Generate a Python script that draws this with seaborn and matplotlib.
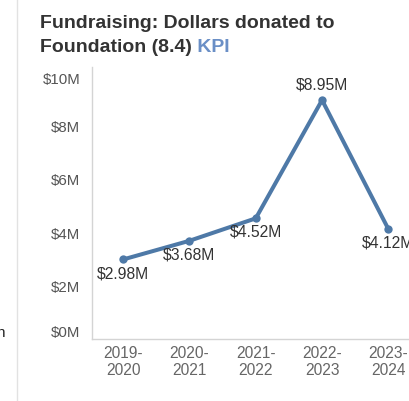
import matplotlib
matplotlib.use("Agg")
import matplotlib.pyplot as plt
from matplotlib.lines import Line2D
import seaborn as sns
import pandas as pd

# Fiscal years and dollars donated (millions)
years = ["2019-\n2020", "2020-\n2021", "2021-\n2022", "2022-\n2023", "2023-\n2024"]
donated_m = [2.98, 3.68, 4.52, 8.95, 4.12]
value_labels = ["$2.98M", "$3.68M", "$4.52M", "$8.95M", "$4.12M"]
y_ticks = [0, 2, 4, 6, 8, 10]
y_tick_labels = ["$0M", "$2M", "$4M", "$6M", "$8M", "$10M"]

sns.set_style("white")
plt.rcParams["font.family"] = ["Liberation Sans", "DejaVu Sans"]

LINE = "#4e79a7"
W, H = 409, 402
fig = plt.figure(figsize=(W / 100, H / 100), dpi=100)

# axes box: left spine at x=92px, bottom spine at y=340px, right edge beyond the canvas
left, bottom, top, right = 92, 340, 68, 421.5
ax = fig.add_axes([left / W, 1 - bottom / H, (right - left) / W, (bottom - top) / H])

df = pd.DataFrame({"year": years, "donated": donated_m})
sns.lineplot(data=df, x="year", y="donated", ax=ax, color=LINE, linewidth=2.9,
             marker="o", markersize=6, markeredgewidth=0, sort=False)

ax.set_xlim(-0.47, 4.5)
ax.set_ylim(0, 10.19)
ax.set_xlabel("")
ax.set_ylabel("")

# value labels: below the point, except the peak which sits above
peak = donated_m.index(max(donated_m))
for i, (v, lbl) in enumerate(zip(donated_m, value_labels)):
    dy = 6 if i == peak else -4
    ax.annotate(lbl, xy=(i, v), xytext=(0, dy), textcoords="offset points",
                ha="center", va="bottom" if i == peak else "top",
                fontsize=11.3, color="#333333")

ax.set_yticks(y_ticks)
ax.set_yticklabels(y_tick_labels)
ax.tick_params(axis="y", length=0, pad=8.5, labelsize=10.8, labelcolor="#555555")
ax.tick_params(axis="x", which="major", length=0, pad=4, labelsize=11.2, labelcolor="#666666")
ax.set_xticks([0.5, 1.5, 2.5, 3.5], minor=True)
ax.tick_params(axis="x", which="minor", length=4, width=0.8, color="#e3e3e3", direction="out")
ylabels = ax.get_yticklabels()
ylabels[0].set_va("bottom")
ylabels[-1].set_va("top")

for s in ["top", "right"]:
    ax.spines[s].set_visible(False)
for s in ["left", "bottom"]:
    ax.spines[s].set_color("#d4d4d4")
    ax.spines[s].set_linewidth(1.0)

# title, two lines, with "KPI" in the accent colour
fig.text(40 / W, 1 - 24 / H, "Fundraising: Dollars donated to", fontsize=14,
         fontweight="bold", color="#333333", va="center", ha="left")
t2 = fig.text(40 / W, 1 - 48 / H, "Foundation (8.4)", fontsize=14,
              fontweight="bold", color="#333333", va="center", ha="left")
ax.annotate(" KPI", xy=(1, 0), xycoords=t2, fontsize=14, fontweight="bold",
            color="#6a8fc6", va="bottom", ha="left", annotation_clip=False)

# panel divider on the left and the clipped neighbouring text
fig.add_artist(Line2D([17 / W, 17 / W], [0, 1], color="#e2e2e2", linewidth=1.0))
fig.text(-4 / W, 1 - 333 / H, "n", fontsize=11, color="#222222", va="center", ha="left")

fig.savefig("out.png", dpi=100)
